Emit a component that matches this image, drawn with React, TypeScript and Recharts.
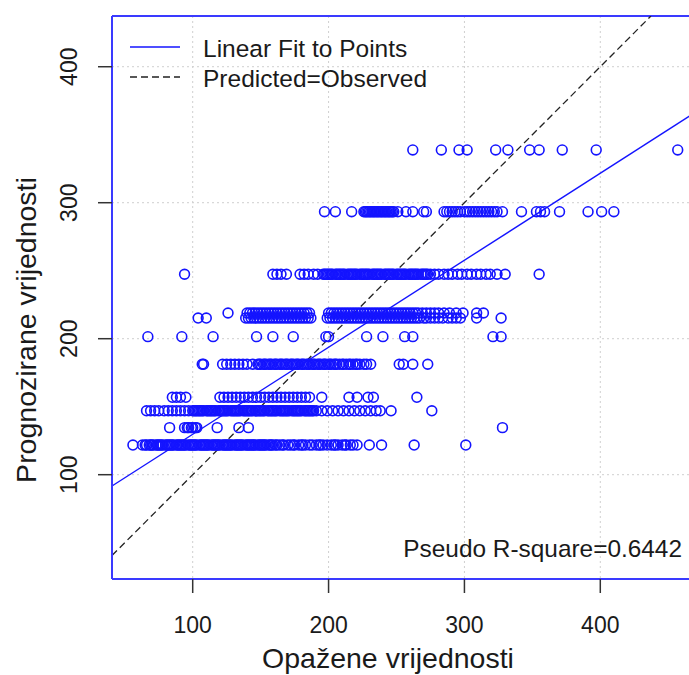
import React from 'react';
import { ScatterChart, Scatter, XAxis, YAxis, CartesianGrid, ReferenceLine, Legend, Customized } from 'recharts';

const FONT = '"Liberation Sans", Arial, sans-serif';
const BLUE = '#1414ff';
const INK = '#1a1a1a';

const xTicks = [100, 200, 300, 400];
const yTicks = [100, 200, 300, 400];

// observed values, grouped by the (few) distinct predicted values
const pred121 = 121.8;
const obsAt121 = [56, 63, 65, 66, 68, 69, 70, 71, 73, 74, 75, 76, 77, 78, 80, 81, 82, 83, 84, 85, 86, 88, 89, 90, 91, 92, 93, 94, 95, 97, 98, 99, 100, 101, 102, 103, 105, 106, 107, 108, 109, 110, 111, 112, 114, 115, 116, 117, 118, 119, 120, 122, 123, 124, 125, 126, 127, 128, 129, 131, 132, 133, 134, 135, 136, 137, 139, 140, 141, 142, 143, 144, 145, 146, 148, 149, 150, 151, 152, 153, 154, 156, 157, 158, 159, 161, 162, 164, 166, 167, 170, 172, 174, 175, 178, 180, 181, 183, 186, 188, 191, 193, 194, 196, 199, 202, 204, 205, 207, 210, 212, 213, 216, 218, 221, 230, 239, 263, 301];

const pred134 = 134.6;
const obsAt134 = [83, 94, 96, 97, 99, 100, 102, 103, 118, 134, 141, 328];

const pred147 = 147.0;
const obsAt147 = [66, 69, 72, 75, 79, 82, 85, 88, 91, 94, 97, 100, 101, 102, 103, 104, 105, 106, 107, 108, 110, 111, 112, 113, 114, 115, 116, 117, 119, 120, 121, 122, 123, 124, 125, 126, 128, 129, 130, 131, 132, 133, 134, 135, 137, 138, 139, 140, 141, 142, 143, 144, 146, 147, 148, 149, 150, 151, 152, 153, 155, 156, 157, 158, 159, 160, 161, 162, 164, 165, 166, 167, 168, 169, 170, 171, 173, 174, 175, 176, 177, 178, 179, 180, 182, 183, 184, 185, 186, 187, 188, 189, 191, 195, 199, 203, 207, 211, 215, 219, 223, 227, 231, 235, 238, 246, 276];

const pred157 = 156.9;
const obsAt157 = [85, 88, 91, 95, 120, 123, 126, 129, 132, 135, 138, 141, 144, 147, 150, 153, 156, 159, 162, 165, 168, 171, 174, 177, 180, 183, 186, 195, 215, 221, 229, 233, 265];

const pred181 = 181.2;
const obsAt181 = [107, 108, 122, 125, 128, 131, 134, 137, 140, 144, 148, 149, 150, 152, 153, 154, 156, 157, 158, 160, 161, 162, 164, 165, 166, 168, 169, 170, 172, 173, 174, 176, 177, 178, 180, 181, 182, 184, 185, 186, 188, 189, 190, 192, 193, 194, 196, 197, 198, 200, 201, 202, 204, 205, 206, 208, 210, 211, 213, 215, 216, 218, 220, 221, 223, 226, 228, 231, 252, 255, 262, 273];

const pred201 = 201.5;
const obsAt201 = [67, 92, 115, 147, 159, 174, 198, 200, 228, 240, 256, 262, 321, 327];

const pred215 = 215.2;
const obsAt215 = [104, 110, 139, 141, 143, 145, 147, 149, 151, 153, 155, 157, 159, 161, 163, 165, 167, 169, 171, 173, 175, 177, 179, 181, 183, 185, 187, 199, 201, 203, 205, 207, 209, 211, 213, 215, 217, 219, 221, 223, 225, 227, 229, 231, 233, 235, 237, 239, 241, 243, 245, 247, 249, 251, 253, 255, 257, 259, 261, 263, 265, 267, 270, 272, 275, 278, 281, 284, 288, 291, 294, 297, 309, 327];

const pred219 = 218.9;
const obsAt219 = [126, 140, 142, 144, 146, 148, 150, 152, 154, 156, 158, 160, 162, 164, 166, 168, 170, 172, 174, 176, 178, 180, 182, 184, 186, 200, 202, 204, 206, 208, 210, 212, 214, 216, 218, 220, 222, 224, 226, 228, 230, 232, 234, 236, 238, 240, 242, 244, 246, 248, 250, 252, 254, 256, 258, 260, 262, 264, 266, 269, 272, 275, 278, 281, 285, 289, 294, 299, 309, 314];

const pred247 = 247.4;
const obsAt247 = [94, 159, 162, 165, 169, 179, 182, 185, 189, 192, 196, 197, 198, 199, 200, 201, 202, 203, 205, 206, 207, 208, 209, 210, 211, 212, 214, 215, 216, 217, 218, 219, 220, 221, 223, 224, 225, 226, 227, 228, 229, 230, 232, 233, 234, 235, 236, 237, 238, 239, 241, 242, 243, 244, 245, 246, 247, 248, 250, 251, 252, 253, 254, 255, 256, 257, 259, 260, 261, 262, 263, 264, 265, 266, 268, 269, 270, 271, 272, 273, 275, 278, 281, 285, 288, 291, 295, 298, 302, 305, 309, 312, 316, 319, 324, 330, 355];

const pred293 = 293.4;
const obsAt293 = [197, 205, 217, 226, 227, 228, 229, 230, 231, 232, 233, 234, 235, 236, 237, 238, 239, 240, 241, 242, 243, 244, 245, 246, 247, 248, 251, 257, 262, 270, 272, 285, 287, 289, 291, 293, 295, 297, 300, 302, 304, 306, 308, 310, 312, 314, 316, 318, 320, 322, 324, 328, 342, 353, 356, 359, 370, 391, 401, 410];

const pred339 = 338.8;
const obsAt339 = [262, 283, 296, 302, 323, 332, 348, 355, 372, 397, 457];

// linear fit of predicted on observed
const fitIntercept = 65.7;
const fitSlope = 0.64;
const rSquare = '0.6442';

const legendLabels = ['Linear Fit to Points', 'Predicted=Observed'];

const X_MIN = 40.6;
const X_MAX = 467.5;
const Y_MIN = 23.3;
const Y_MAX = 437.3;

const groups: [number, number[]][] = [
  [pred121, obsAt121], [pred134, obsAt134], [pred147, obsAt147], [pred157, obsAt157],
  [pred181, obsAt181], [pred201, obsAt201], [pred215, obsAt215], [pred219, obsAt219],
  [pred247, obsAt247], [pred293, obsAt293], [pred339, obsAt339],
];
const points = groups.flatMap(([pred, obs]) => obs.map(o => ({ obs: o, pred })));

const RingPoint = (props: any) => (
  <circle cx={props.cx} cy={props.cy} r={4.9} fill="none" stroke={BLUE} strokeWidth={1.6} />
);

const XTick = ({ x, y, payload }: any) => (
  <text x={x} y={y + 40} textAnchor="middle" fontFamily={FONT} fontSize={23} fill={INK}>{payload.value}</text>
);

const YTick = ({ x, y, payload }: any) => (
  <text x={x - 21} y={y} textAnchor="middle" transform={`rotate(-90 ${x - 21} ${y})`} fontFamily={FONT} fontSize={23} fill={INK}>{payload.value}</text>
);

const Titles = () => (
  <g fontFamily={FONT} fill={INK}>
    <text x={388} y={668} fontSize={28.5} textAnchor="middle">Opažene vrijednosti</text>
    <text x={36} y={330} fontSize={28.5} textAnchor="middle" transform="rotate(-90 36 330)">Prognozirane vrijednosti</text>
    <text x={682} y={557} fontSize={24.4} textAnchor="end">Pseudo R-square={rSquare}</text>
  </g>
);

const renderLegend = () => (
  <div style={{ fontFamily: FONT, fontSize: 24.5, color: INK }}>
    {legendLabels.map((label, i) => (
      <div key={label} style={{ display: 'flex', height: 30, lineHeight: '30px' }}>
        <svg width={75} height={30}>
          <line x1={2} x2={52} y1={13} y2={13} stroke={i === 0 ? BLUE : '#222'} strokeWidth={1.4} strokeDasharray={i === 0 ? undefined : '7 4'} />
        </svg>
        <span>{label}</span>
      </div>
    ))}
  </div>
);

export default function App() {
  return (
    <div style={{ position: 'absolute', left: 0, top: 0, width: 689, height: 675, overflow: 'hidden', background: '#fff' }}>
      <ScatterChart width={700} height={675} margin={{ top: 16, right: 8, bottom: 36, left: 0 }}>
        <CartesianGrid stroke="#cfcfcf" strokeDasharray="2 3" />
        <XAxis dataKey="obs" type="number" domain={[X_MIN, X_MAX]} ticks={xTicks} allowDataOverflow
          height={60} tickSize={14} tickMargin={0} tick={<XTick />}
          axisLine={{ stroke: '#3a3aff', strokeWidth: 2 }} tickLine={{ stroke: '#333', strokeWidth: 1.5 }} />
        <YAxis dataKey="pred" type="number" domain={[Y_MIN, Y_MAX]} ticks={yTicks} allowDataOverflow
          width={112} tickSize={14} tickMargin={0} tick={<YTick />}
          axisLine={{ stroke: '#3a3aff', strokeWidth: 2 }} tickLine={{ stroke: '#333', strokeWidth: 1.5 }} />
        <Scatter data={points} shape={<RingPoint />} isAnimationActive={false} />
        <ReferenceLine y={Y_MAX} stroke="#3a3aff" strokeWidth={2} ifOverflow="visible" />
        <ReferenceLine ifOverflow="hidden" stroke="#222" strokeWidth={1.3} strokeDasharray="7 4"
          segment={[{ x: X_MIN, y: X_MIN }, { x: Y_MAX, y: Y_MAX }]} />
        <ReferenceLine ifOverflow="hidden" stroke={BLUE} strokeWidth={1.4}
          segment={[{ x: X_MIN, y: fitIntercept + fitSlope * X_MIN }, { x: X_MAX, y: fitIntercept + fitSlope * X_MAX }]} />
        <Legend content={renderLegend} layout="vertical" verticalAlign="middle" align="center"
          wrapperStyle={{ left: 128, top: 34, width: 'auto' }} />
        <Customized component={Titles} />
      </ScatterChart>
    </div>
  );
}
